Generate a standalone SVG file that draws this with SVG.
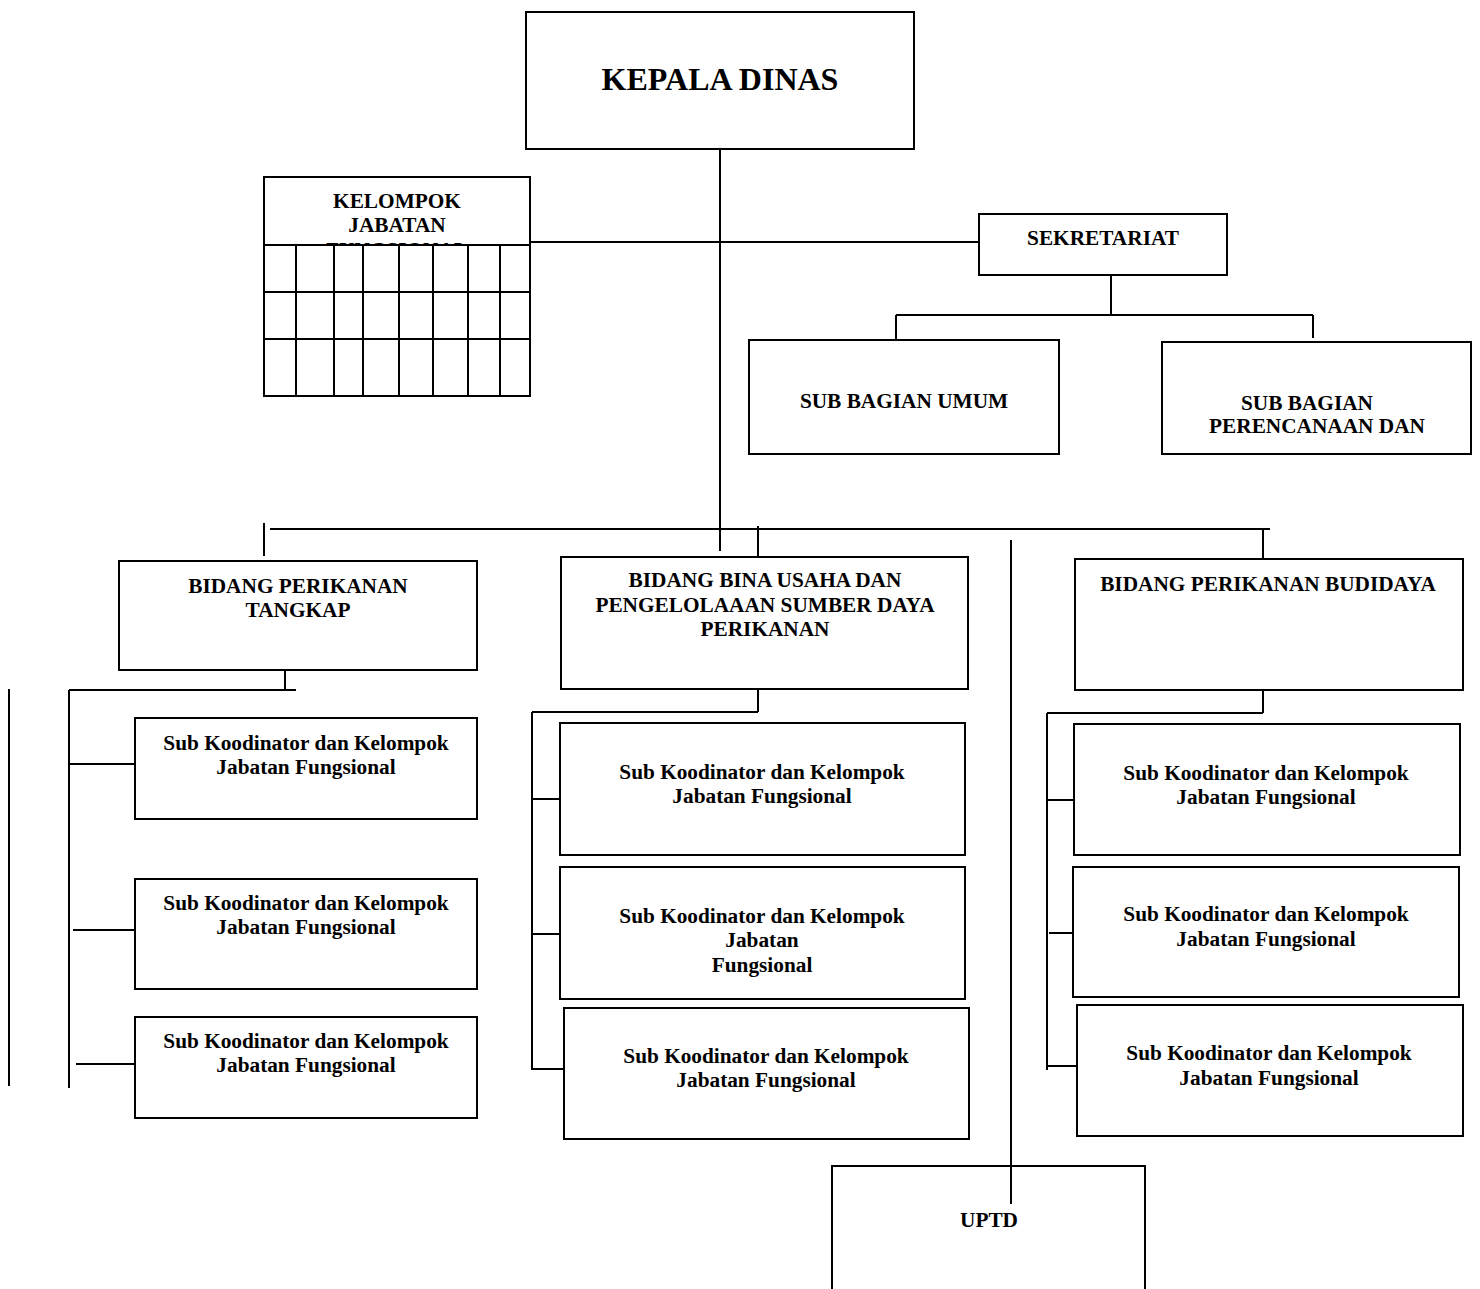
<svg xmlns="http://www.w3.org/2000/svg" width="1480" height="1289" viewBox="0 0 1480 1289">
<style>
.box{fill:#fff;stroke:#000;stroke-width:2}
.cell{fill:#fff;stroke:#000;stroke-width:2}
.ln{stroke:#000;stroke-width:2;fill:none}
text{font-family:"Liberation Serif","Times New Roman",serif;font-weight:bold;fill:#000;text-anchor:middle;font-size:21.3px}
.big{font-size:32px}
</style>
<rect x="0" y="0" width="1480" height="1289" fill="#fff"/>
<g id="connectors">
<path class="ln" d="M720 149V551"/>
<path class="ln" d="M530 242H979"/>
<path class="ln" d="M1111 275V315M896 315H1313M896 315V340M1313 315V338"/>
<path class="ln" d="M264 523V556M270 529H1270M758 526V556M1263 529V559"/>
<path class="ln" d="M1011 540V1204"/>
<path class="ln" d="M285 671V690M69 690H296M69 690V1088M9 689V1086"/>
<path class="ln" d="M69 764H135M73 930H139M76 1064H142"/>
<path class="ln" d="M758 689V712M532 712H758M532 712V1070M532 799H560M532 934H562M532 1069H564"/>
<path class="ln" d="M1263 691V713M1047 713H1263M1047 713V1070M1047 800H1074M1049 933H1076M1047 1066H1077"/>
</g>
<g id="kepala-dinas">
<rect class="box" x="526" y="12" width="388" height="137"/>
<text class="big" x="720" y="90">KEPALA DINAS</text>
</g>
<g id="kelompok-jabatan-fungsional">
<rect class="box" x="264" y="177" width="266" height="219"/>
<text x="397" y="208">KELOMPOK</text>
<text x="397" y="232">JABATAN</text>
<text x="397" y="257">FUNGSIONAL</text>
<g>
<rect class="cell" x="264" y="245" width="266" height="151"/>
<path class="ln" d="M264 292H530M264 339H530M296 245V396M334 245V396M363 245V396M399 245V396M433 245V396M468 245V396M500 245V396"/>
</g>
</g>
<g id="sekretariat">
<rect class="box" x="979" y="214" width="248" height="61"/>
<text x="1103" y="245">SEKRETARIAT</text>
</g>
<g id="sub-bagian-umum">
<rect class="box" x="749" y="340" width="310" height="114"/>
<text x="904" y="408">SUB BAGIAN UMUM</text>
</g>
<g id="sub-bagian-perencanaan">
<rect class="box" x="1162" y="342" width="309" height="112"/>
<text x="1307" y="410">SUB BAGIAN</text>
<text x="1317" y="433">PERENCANAAN DAN</text>
</g>
<g id="bidang-perikanan-tangkap">
<rect class="box" x="119" y="561" width="358" height="109"/>
<text x="298" y="593">BIDANG PERIKANAN</text>
<text x="298" y="617">TANGKAP</text>
</g>
<g id="bidang-bina-usaha">
<rect class="box" x="561" y="557" width="407" height="132"/>
<text x="765" y="587">BIDANG BINA USAHA DAN</text>
<text x="765" y="612">PENGELOLAAAN SUMBER DAYA</text>
<text x="765" y="636">PERIKANAN</text>
</g>
<g id="bidang-perikanan-budidaya">
<rect class="box" x="1075" y="559" width="388" height="131"/>
<text x="1268" y="591">BIDANG PERIKANAN BUDIDAYA</text>
</g>
<g id="sub-tangkap-1">
<rect class="box" x="135" y="718" width="342" height="101"/>
<text x="306" y="750">Sub Koodinator dan Kelompok</text>
<text x="306" y="774">Jabatan Fungsional</text>
</g>
<g id="sub-tangkap-2">
<rect class="box" x="135" y="879" width="342" height="110"/>
<text x="306" y="910">Sub Koodinator dan Kelompok</text>
<text x="306" y="934">Jabatan Fungsional</text>
</g>
<g id="sub-tangkap-3">
<rect class="box" x="135" y="1017" width="342" height="101"/>
<text x="306" y="1048">Sub Koodinator dan Kelompok</text>
<text x="306" y="1072">Jabatan Fungsional</text>
</g>
<g id="sub-bina-1">
<rect class="box" x="560" y="723" width="405" height="132"/>
<text x="762" y="779">Sub Koodinator dan Kelompok</text>
<text x="762" y="803">Jabatan Fungsional</text>
</g>
<g id="sub-bina-2">
<rect class="box" x="560" y="867" width="405" height="132"/>
<text x="762" y="923">Sub Koodinator dan Kelompok</text>
<text x="762" y="947">Jabatan</text>
<text x="762" y="972">Fungsional</text>
</g>
<g id="sub-bina-3">
<rect class="box" x="564" y="1008" width="405" height="131"/>
<text x="766" y="1063">Sub Koodinator dan Kelompok</text>
<text x="766" y="1087">Jabatan Fungsional</text>
</g>
<g id="sub-budidaya-1">
<rect class="box" x="1074" y="724" width="386" height="131"/>
<text x="1266" y="780">Sub Koodinator dan Kelompok</text>
<text x="1266" y="804">Jabatan Fungsional</text>
</g>
<g id="sub-budidaya-2">
<rect class="box" x="1073" y="867" width="386" height="130"/>
<text x="1266" y="921">Sub Koodinator dan Kelompok</text>
<text x="1266" y="946">Jabatan Fungsional</text>
</g>
<g id="sub-budidaya-3">
<rect class="box" x="1077" y="1005" width="386" height="131"/>
<text x="1269" y="1060">Sub Koodinator dan Kelompok</text>
<text x="1269" y="1085">Jabatan Fungsional</text>
</g>
<g id="uptd">
<path class="box" d="M832 1289V1166H1145V1289"/>
<text x="989" y="1227">UPTD</text>
</g>
<path class="ln" d="M1011 1166V1204"/>
</svg>
